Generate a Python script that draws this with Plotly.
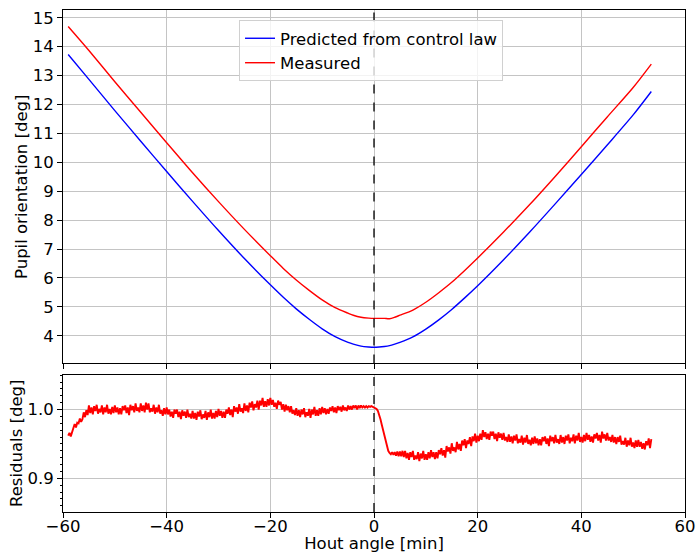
import numpy as np
import plotly.graph_objects as go
from plotly.subplots import make_subplots

# Top panel: pupil orientation vs hour angle
hour_angle = [-59, -55, -50, -45, -40, -35, -30, -25, -20, -17.5, -15, -12.5, -10, -7.5, -5, -4, -2.5, -1, 0,
              1, 2, 3, 4, 5, 7.5, 10, 12.5, 15, 17.5, 20, 25, 30, 35, 40, 45, 50, 53.5]
predicted = [13.73, 12.87, 11.79, 10.73, 9.68, 8.65, 7.64, 6.67, 5.76, 5.33, 4.93, 4.57, 4.24, 3.97, 3.77, 3.71, 3.64, 3.61, 3.60,
             3.61, 3.63, 3.66, 3.71, 3.77, 3.96, 4.23, 4.55, 4.91, 5.31, 5.73, 6.63, 7.58, 8.57, 9.58, 10.60, 11.64, 12.45]
measured = [14.70, 13.87, 12.79, 11.73, 10.68, 9.64, 8.64, 7.68, 6.77, 6.33, 5.93, 5.57, 5.24, 4.97, 4.78, 4.71, 4.64, 4.61, 4.60,
            4.60, 4.60, 4.59, 4.64, 4.71, 4.89, 5.16, 5.49, 5.85, 6.26, 6.69, 7.59, 8.53, 9.52, 10.54, 11.57, 12.59, 13.40]

# Bottom panel: residuals sampled every 0.25 min from -59 to 53.5 (one row per minute)
res_hour_angle = np.arange(-59, 53.5 + 0.1, 0.25)
residuals = [
    0.962, 0.966, 0.961, 0.968,  0.972, 0.979, 0.974, 0.981,  0.980, 0.987, 0.982, 0.986,
    0.996, 0.989, 0.999, 0.992,  1.006, 0.995, 1.003, 0.993,  1.005, 0.998, 1.007, 0.994,
    1.001, 0.996, 1.006, 0.993,  1.003, 0.996, 1.007, 0.994,  1.001, 0.993, 1.004, 0.995,
    1.006, 0.996, 1.003, 0.993,  1.002, 0.993, 1.005, 0.999,  1.006, 0.995, 1.003, 0.992,
    1.007, 0.999, 1.005, 0.996,  1.009, 0.998, 1.003, 0.996,  1.009, 0.998, 1.006, 0.996,
    1.010, 1.000, 1.009, 0.996,  1.002, 0.997, 1.007, 0.994,  1.003, 0.996, 1.007, 0.994,
    0.999, 0.991, 1.002, 0.993,  1.003, 0.993, 1.000, 0.990,  0.997, 0.988, 1.000, 0.994,
    1.000, 0.989, 0.997, 0.986,  0.999, 0.991, 0.997, 0.988,  1.000, 0.989, 0.994, 0.987,
    0.998, 0.987, 0.995, 0.985,  0.997, 0.990, 0.999, 0.986,  0.993, 0.988, 0.998, 0.985,
    0.996, 0.989, 1.000, 0.987,  0.995, 0.987, 0.998, 0.989,  1.001, 0.991, 0.998, 0.988,
    0.997, 0.988, 1.000, 0.994,  1.003, 0.992, 1.000, 0.989,  1.005, 0.997, 1.003, 0.994,
    1.008, 0.997, 1.002, 0.995,  1.009, 0.998, 1.006, 0.996,  1.010, 1.003, 1.012, 0.999,
    1.008, 1.003, 1.013, 1.000,  1.013, 1.006, 1.017, 1.004,  1.012, 1.004, 1.015, 1.006,
    1.017, 1.007, 1.014, 1.004,  1.010, 1.001, 1.013, 1.007,  1.011, 1.000, 1.008, 0.997,
    1.007, 0.999, 1.005, 0.996,  1.005, 0.994, 0.999, 0.992,  1.002, 0.991, 0.999, 0.989,
    1.000, 0.993, 1.002, 0.989,  0.996, 0.991, 1.001, 0.988,  1.000, 0.993, 1.004, 0.991,
    0.999, 0.991, 1.002, 0.993,  1.004, 0.995, 1.002, 0.993,  1.001, 0.994, 1.003, 0.998,
    1.005, 0.996, 1.003, 0.995,  1.005, 0.999, 1.004, 0.997,  1.006, 0.999, 1.003, 0.998,
    1.006, 1.000, 1.005, 1.000,  1.006, 1.002, 1.006, 1.000,  1.006, 1.002, 1.006, 1.003,
    1.005, 1.003, 1.005, 1.003,  1.005, 1.004, 1.005, 1.004,
    1.004, 1.003, 1.001, 0.998,  0.993, 0.986, 0.978, 0.970,  0.962, 0.954, 0.946, 0.940,
    0.937, 0.935, 0.938, 0.934,  0.938, 0.933, 0.939, 0.932,  0.939, 0.932, 0.940, 0.931,
    0.940, 0.929, 0.937, 0.927,  0.938, 0.931, 0.940, 0.927,  0.933, 0.928, 0.938, 0.925,
    0.936, 0.929, 0.940, 0.927,  0.935, 0.927, 0.938, 0.929,  0.941, 0.931, 0.938, 0.928,
    0.938, 0.929, 0.941, 0.935,  0.944, 0.933, 0.941, 0.930,  0.947, 0.939, 0.945, 0.936,
    0.951, 0.940, 0.945, 0.938,  0.953, 0.942, 0.950, 0.940,  0.955, 0.948, 0.957, 0.944,
    0.955, 0.950, 0.960, 0.947,  0.961, 0.954, 0.965, 0.952,  0.962, 0.954, 0.965, 0.956,
    0.970, 0.960, 0.967, 0.957,  0.965, 0.956, 0.968, 0.962,  0.968, 0.957, 0.965, 0.954,
    0.967, 0.959, 0.965, 0.956,  0.966, 0.955, 0.960, 0.953,  0.964, 0.953, 0.961, 0.951,
    0.962, 0.955, 0.964, 0.951,  0.957, 0.952, 0.962, 0.949,  0.959, 0.952, 0.963, 0.950,
    0.956, 0.948, 0.959, 0.950,  0.961, 0.951, 0.958, 0.948,  0.957, 0.948, 0.960, 0.954,
    0.961, 0.950, 0.958, 0.947,  0.962, 0.954, 0.960, 0.951,  0.963, 0.952, 0.957, 0.950,
    0.963, 0.952, 0.960, 0.950,  0.962, 0.955, 0.964, 0.951,  0.959, 0.954, 0.964, 0.951,
    0.962, 0.955, 0.966, 0.953,  0.960, 0.952, 0.963, 0.954,  0.966, 0.956, 0.963, 0.953,
    0.961, 0.952, 0.964, 0.958,  0.966, 0.955, 0.963, 0.952,  0.968, 0.958, 0.964, 0.955,
    0.966, 0.955, 0.960, 0.953,  0.963, 0.952, 0.960, 0.950,  0.960, 0.953, 0.962, 0.949,
    0.954, 0.949, 0.959, 0.946,  0.955, 0.948, 0.959, 0.946,  0.952, 0.944, 0.955, 0.946,
    0.956, 0.946, 0.953, 0.943,  0.951, 0.942, 0.954, 0.948,  0.958, 0.944, 0.957,
]

x_ticks = [-60, -40, -20, 0, 20, 40, 60]
top_y_ticks = list(range(4, 16))
res_y_ticks = [0.9, 1.0]

FONT = "DejaVu Sans"
FS = 16.5
GRID = "#c4c4c4"

fig = make_subplots(rows=2, cols=1, shared_xaxes=True, vertical_spacing=0.022,
                    row_heights=[0.72, 0.28])

fig.add_trace(go.Scatter(x=hour_angle, y=predicted, mode="lines", line_shape="spline",
                         line=dict(color="#0000ff", width=1.4, smoothing=0.8),
                         name="Predicted from control law"), row=1, col=1)
fig.add_trace(go.Scatter(x=hour_angle, y=measured, mode="lines", line_shape="spline",
                         line=dict(color="#ff0000", width=1.4, smoothing=0.8),
                         name="Measured"), row=1, col=1)
fig.add_trace(go.Scatter(x=res_hour_angle, y=residuals, mode="lines",
                         line=dict(color="#ff0000", width=1.9),
                         showlegend=False), row=2, col=1)

for r in (1, 2):
    fig.add_vline(x=0, line=dict(color="black", width=1.3, dash="dash"), row=r, col=1)

axis_common = dict(showline=True, linecolor="black", linewidth=1, mirror=True,
                   ticks="outside", ticklen=5, tickcolor="black",
                   showgrid=True, gridcolor=GRID, gridwidth=1, zeroline=False,
                   automargin=False,
                   tickfont=dict(family=FONT, size=FS, color="black"))

fig.update_xaxes(range=[-60, 60], tickvals=x_ticks, **axis_common)
fig.update_xaxes(showticklabels=False, row=1, col=1)
fig.update_xaxes(ticklabelstandoff=-6,
                 title=dict(text="Hout angle [min]", font=dict(family=FONT, size=FS, color="black"),
                            standoff=7), row=2, col=1)

fig.update_yaxes(**axis_common)
fig.update_yaxes(range=[3.04, 15.27], tickvals=top_y_ticks,
                 title=dict(text="Pupil orientation [deg]", font=dict(family=FONT, size=FS, color="black"),
                            standoff=0), row=1, col=1)
fig.update_yaxes(range=[0.851, 1.051], tickvals=res_y_ticks, tickformat=".1f",
                 minor=dict(dtick=0.01, ticks="outside", ticklen=2.5, tickcolor="black", showgrid=False),
                 title=dict(text="Residuals [deg]", font=dict(family=FONT, size=FS, color="black"),
                            standoff=0), row=2, col=1)

fig.update_layout(
    width=699, height=553,
    margin=dict(l=63, r=14, t=10, b=41),
    plot_bgcolor="white", paper_bgcolor="white",
    font=dict(family=FONT, size=FS, color="black"),
    legend=dict(x=0.283, y=0.98, xanchor="left", yanchor="top",
                bgcolor="rgba(255,255,255,0.8)", bordercolor="#d0d0d0", borderwidth=1,
                font=dict(family=FONT, size=FS, color="black"),
                itemwidth=30, tracegroupgap=0),
)

fig.write_html("out.html", config={"displayModeBar": False},
               post_script="document.body.style.margin='0';")
